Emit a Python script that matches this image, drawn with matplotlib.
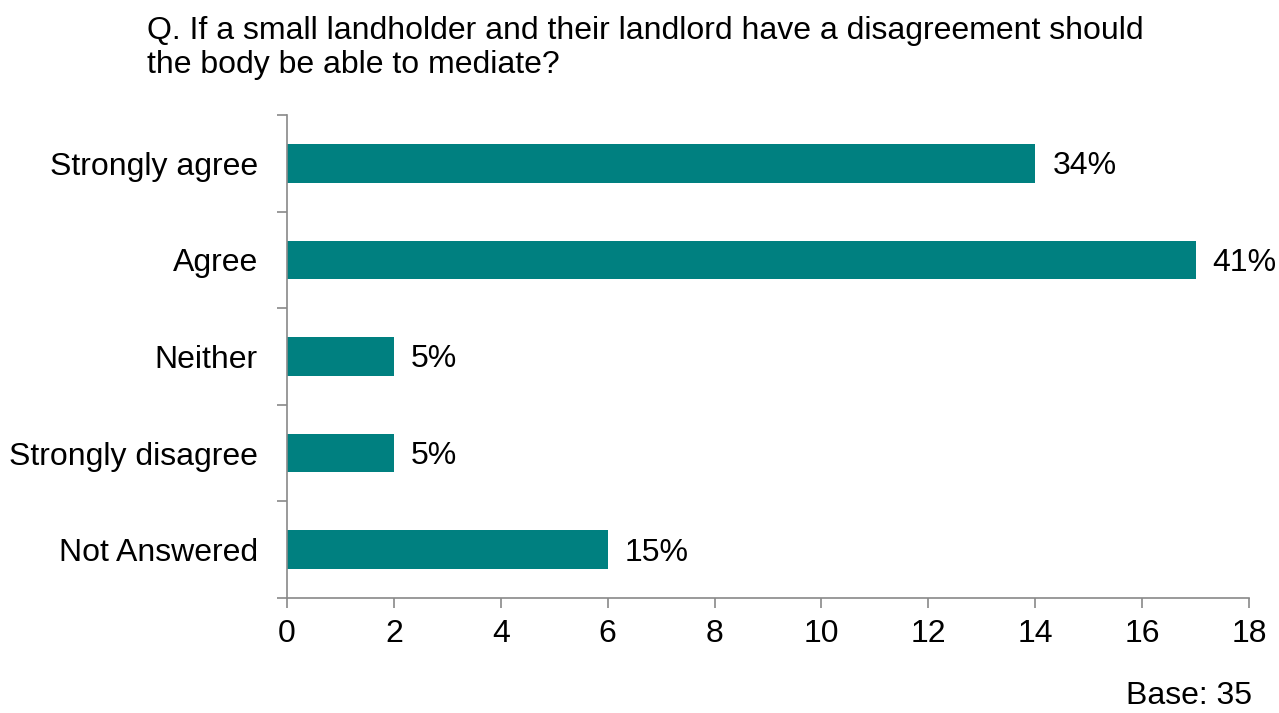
import matplotlib.pyplot as plt
import numpy as np

plt.rcParams["font.family"] = ["Liberation Sans", "DejaVu Sans"]

categories = ["Strongly agree", "Agree", "Neither", "Strongly disagree", "Not Answered"]
counts = [14, 17, 2, 2, 6]
pct_labels = ["34%", "41%", "5%", "5%", "15%"]
x_ticks = [0, 2, 4, 6, 8, 10, 12, 14, 16, 18]

title = ("Q. If a small landholder and their landlord have a disagreement should\n"
         "the body be able to mediate?")

fs = 23
axis_grey = "#898989"

fig = plt.figure(figsize=(12.79, 7.13), dpi=100)
ax = fig.add_axes([287 / 1279, 1 - 598 / 713, (1249 - 287) / 1279, (598 - 115) / 713])

y = np.arange(len(categories))
ax.barh(y, counts, height=0.4, color="#008080")
ax.set_ylim(len(categories) - 0.5, -0.5)
ax.set_xlim(0, 18)

for yi, c, lab in zip(y, counts, pct_labels):
    ax.text(c + 0.32, yi + 0.03, lab, va="center", ha="left", fontsize=fs)

# category labels sit between the boundary ticks
ax.set_yticks(y)
ax.set_yticklabels(categories, fontsize=fs)
ax.tick_params(axis="y", length=0, pad=21)
ax.set_yticks(np.arange(-0.5, len(categories)), minor=True)
ax.tick_params(axis="y", which="minor", length=7, width=1.2, color=axis_grey, direction="out")

ax.set_xticks(x_ticks)
ax.set_xticklabels([str(t) for t in x_ticks], fontsize=fs)
ax.tick_params(axis="x", length=7, width=1.2, color=axis_grey, direction="out", pad=8)

for side in ["top", "right"]:
    ax.spines[side].set_visible(False)
for side in ["left", "bottom"]:
    ax.spines[side].set_color(axis_grey)
    ax.spines[side].set_linewidth(1.2)

fig.text(147 / 1279, 1 - 16 / 713, title, fontsize=fs, va="top", ha="left", linespacing=1.17)
fig.text(1252 / 1279, 2 / 713, "Base: 35", fontsize=fs, va="bottom", ha="right")

fig.savefig("out.png", dpi=100)
